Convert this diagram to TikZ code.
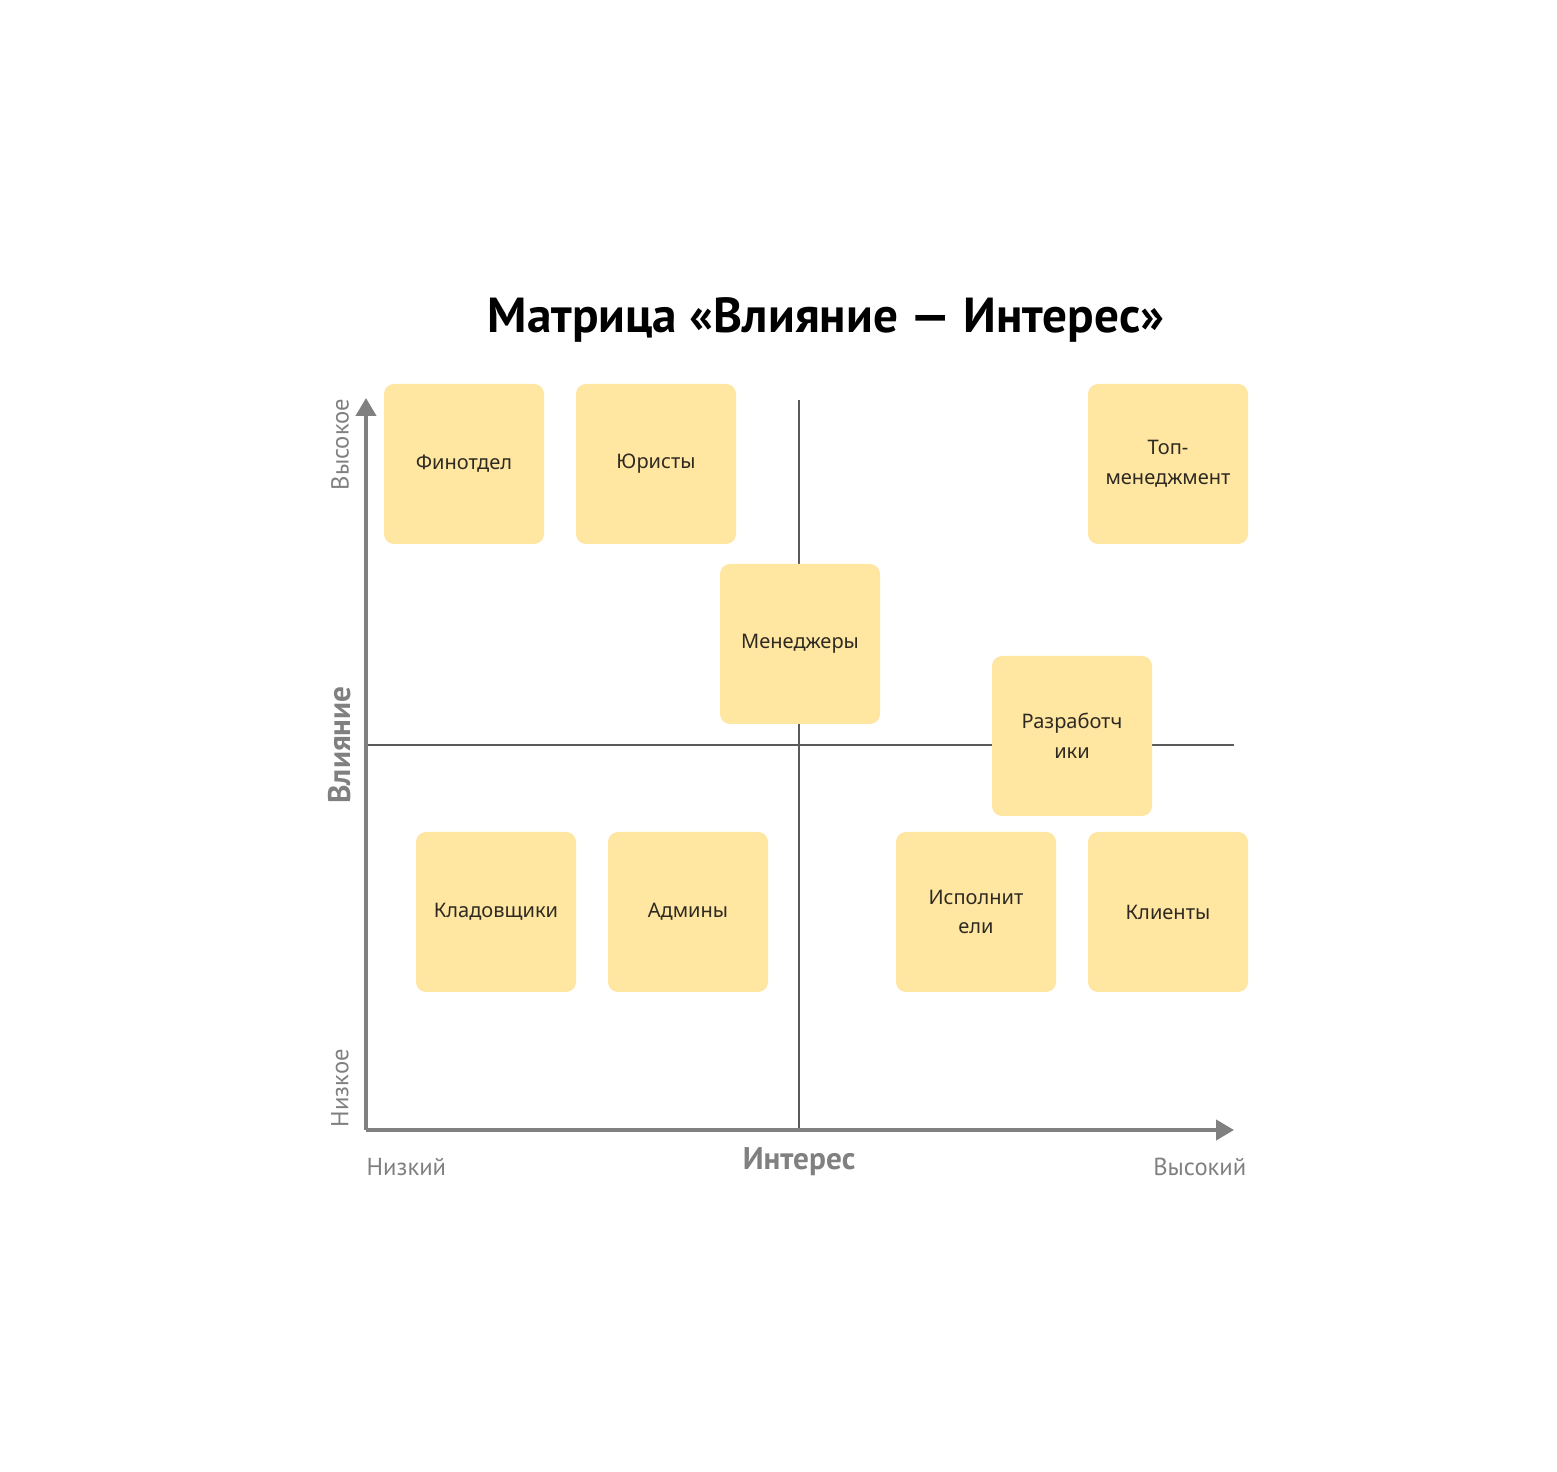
\documentclass[tikz,border=0pt]{standalone}
\usepackage{fontspec}
\setmainfont{Noto Sans}
\newfontfamily\ptsans{PT Sans}
\usetikzlibrary{arrows, arrows.meta}
\usetikzlibrary{calc}

\definecolor{stickyfill}{HTML}{FFE6A1}
\definecolor{stickytext}{HTML}{2E2A22}
\definecolor{axisgray}{HTML}{808080}
\definecolor{gridgray}{HTML}{5A5A5A}

\begin{document}
\begin{tikzpicture}[x=0.1mm, y=-0.1mm,
    sticky/.style={rectangle, rounded corners=1mm, fill=stickyfill, minimum size=16mm, inner sep=0pt,
      align=center, text=stickytext, font=\fontsize{5.7}{8.5}\selectfont},
    axisline/.style={line width=0.4mm, axisgray, -{Triangle[length=1.8mm, width=2mm]}},
    gridline/.style={line width=0.13mm, gridgray},
    scale label/.style={text=axisgray, font=\ptsans\fontsize{7}{8}\selectfont, inner sep=0pt},
    axis label/.style={text=axisgray, font=\ptsans\bfseries\fontsize{8.9}{10}\selectfont, inner sep=0pt}]
      \useasboundingbox (0,0) rectangle (1557,1472);

      \node[font=\ptsans\bfseries\fontsize{14}{16}\selectfont, inner sep=0pt] (title) at (826,320) {Матрица «Влияние — Интерес»};

      % axes
      \coordinate (origin) at (366,1130);
      \coordinate (ytip) at (366,398);
      \coordinate (xtip) at (1234,1130);
      \coordinate (vtop) at (799,400);
      \coordinate (vbot) at (799,1130);
      \coordinate (hleft) at (364,745);
      \coordinate (hright) at (1234,745);

      \draw[gridline] (vtop) -- (vbot);
      \draw[gridline] (hleft) -- (hright);
      \draw[axisline] (origin) -- (ytip);
      \draw[axisline] (origin) -- (xtip);

      \node[scale label, anchor=west] (xlow) at (366,1167) {Низкий};
      \node[scale label, anchor=east] (xhigh) at (1247,1167) {Высокий};
      \node[axis label] (xname) at (799,1162) {Интерес};
      \node[scale label, rotate=90, anchor=west] (ylow) at (340,1128) {Низкое};
      \node[scale label, rotate=90, anchor=east] (yhigh) at (340,398) {Высокое};
      \node[axis label, rotate=90] (yname) at (340,745) {Влияние};

      % stakeholders
      \node[sticky] (fin) at (464,464) {Финотдел};
      \node[sticky] (law) at (656,464) {Юристы};
      \node[sticky] (top) at (1168,464) {Топ-\\менеджмент};
      \node[sticky] (mgr) at (800,644) {Менеджеры};
      \node[sticky] (dev) at (1072,736) {Разработч\\ики};
      \node[sticky] (store) at (496,912) {Кладовщики};
      \node[sticky] (adm) at (688,912) {Админы};
      \node[sticky] (exec) at (976,912) {Исполнит\\ели};
      \node[sticky] (cli) at (1168,912) {Клиенты};
    \end{tikzpicture}
\end{document}
